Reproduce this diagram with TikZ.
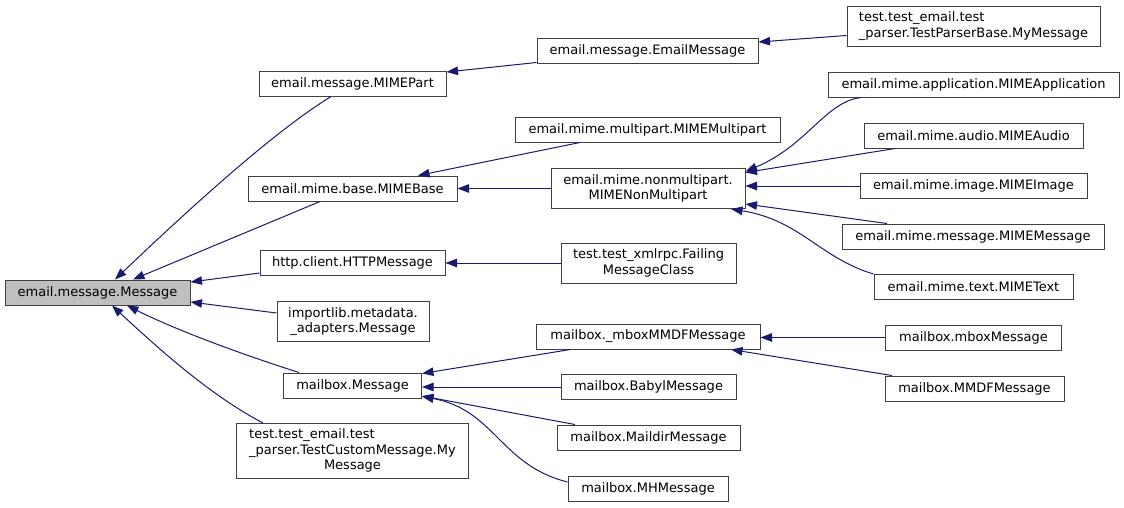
\documentclass[tikz,border=0pt]{standalone}
\usepackage{fontspec}
\setmainfont{DejaVu Sans}
\usetikzlibrary{arrows.meta}
\definecolor{edgeblue}{HTML}{191970}
\definecolor{boxline}{HTML}{404040}
\definecolor{selfill}{HTML}{BFBFBF}
\begin{document}
\begin{tikzpicture}[x=1pt,y=-1pt,
  box/.style={draw=boxline, line width=1pt, fill=white, inner sep=0pt, minimum height=25pt,
    font=\fontsize{13}{15.5}\selectfont, text=black},
  edge/.style={draw=edgeblue, line width=1pt, -{Triangle[length=11.5pt,width=8.5pt]}}]
\useasboundingbox (0,0) rectangle (1124,507);
% column 0
\node[box, fill=selfill, minimum width=185pt] (msg) at (97.5,292.5) {email.message.Message};
% column 1
\node[box, minimum width=187pt] (mimepart) at (352.5,83.5) {email.message.MIMEPart};
\node[box, minimum width=209pt] (mimebase) at (352.5,188.5) {email.mime.base.MIMEBase};
\node[box, minimum width=185pt] (http) at (352.5,263) {http.client.HTTPMessage};
\node[box, minimum width=152pt, minimum height=40pt, align=center] (importlib) at (353,321.5) {importlib.metadata.\\\_adapters.Message};
\node[box, minimum width=138pt] (mbmsg) at (352.5,385.5) {mailbox.Message};
\node[box, minimum width=232pt, minimum height=55pt] (custom) at (352.5,451) {\begin{tabular}{@{}l@{}}test.test\_email.test\\\_parser.TestCustomMessage.My\\\multicolumn{1}{@{}c@{}}{Message}\end{tabular}};
% column 2
\node[box, minimum width=221pt] (emailmsg) at (647.5,51) {email.message.EmailMessage};
\node[box, minimum width=265pt] (multipart) at (647.5,129.5) {email.mime.multipart.MIMEMultipart};
\node[box, minimum width=194pt, minimum height=40pt, align=center] (nonmulti) at (648,188.5) {email.mime.nonmultipart.\\MIMENonMultipart};
\node[box, minimum width=175pt, minimum height=40pt, align=center] (failing) at (648.5,263) {test.test\_xmlrpc.Failing\\MessageClass};
\node[box, minimum width=224pt] (mboxmmdf) at (648,336.5) {mailbox.\_mboxMMDFMessage};
\node[box, minimum width=175pt] (babyl) at (648.5,387) {mailbox.BabylMessage};
\node[box, minimum width=183pt] (maildir) at (648.5,437.5) {mailbox.MaildirMessage};
\node[box, minimum width=160pt] (mh) at (648,488.5) {mailbox.MHMessage};
% column 3
\node[box, minimum width=253pt, minimum height=40pt, align=left] (parser) at (973.5,26) {test.test\_email.test\\\_parser.TestParserBase.MyMessage};
\node[box, minimum width=291pt] (app) at (973.5,84.5) {email.mime.application.MIMEApplication};
\node[box, minimum width=219pt] (audio) at (973.5,135.5) {email.mime.audio.MIMEAudio};
\node[box, minimum width=227pt] (image) at (973.5,186) {email.mime.image.MIMEImage};
\node[box, minimum width=262pt] (mimemsg) at (973,236.5) {email.mime.message.MIMEMessage};
\node[box, minimum width=199pt] (text) at (973.5,287) {email.mime.text.MIMEText};
\node[box, minimum width=176pt] (mbox) at (973.5,337.5) {mailbox.mboxMessage};
\node[box, minimum width=179pt] (mmdf) at (974.5,388.5) {mailbox.MMDFMessage};
% edges to email.message.Message
\draw[edge] ([xshift=-21.5pt]mimepart.south) .. controls (290,122) and (230,170) .. ([xshift=17.5pt]msg.north);
\draw[edge] ([xshift=-32.5pt]mimebase.south) -- ([xshift=35.5pt]msg.north);
\draw[edge] ([yshift=-10pt]http.west) -- ([yshift=10.5pt]msg.east);
\draw[edge] ([yshift=8.5pt]importlib.west) -- ([yshift=-9.5pt]msg.east);
\draw[edge] ([xshift=-53.5pt]mbmsg.north) .. controls (250,357) and (180,332) .. ([xshift=29.5pt]msg.south);
\draw[edge] ([xshift=-89.5pt]custom.north) .. controls (210,395) and (160,350) .. ([xshift=14.5pt]msg.south);
% edges in upper part
\draw[edge] ([yshift=-11.5pt]emailmsg.west) -- ([yshift=11.5pt]mimepart.east);
\draw[edge] ([yshift=-9.5pt]parser.west) -- ([yshift=9pt]emailmsg.east);
\draw[edge] ([xshift=-67.5pt]multipart.south) -- ([xshift=65.5pt]mimebase.north);
\draw[edge] (nonmulti.west) -- (mimebase.east);
\draw[edge] (failing.west) -- (http.east);
% edges to MIMENonMultipart
\draw[edge] ([xshift=-112.5pt]app.south) .. controls (825,102) and (808,145) .. ([yshift=17pt]nonmulti.east);
\draw[edge] ([xshift=-78.5pt]audio.south) -- ([yshift=16pt]nonmulti.east);
\draw[edge] (image.west) -- (image.west -| nonmulti.east);
\draw[edge] ([xshift=-86pt]mimemsg.north) -- ([yshift=-15.5pt]nonmulti.east);
\draw[edge] (text.north west) .. controls (820,258) and (800,220) .. ([xshift=83pt]nonmulti.south);
% mailbox edges
\draw[edge] (mbox.west) -- (mbox.west -| mboxmmdf.east);
\draw[edge] ([xshift=-82.5pt]mmdf.north) -- ([xshift=83pt]mboxmmdf.south);
\draw[edge] ([xshift=-77.5pt]mboxmmdf.south) -- ([yshift=12pt]mbmsg.east);
\draw[edge] (babyl.west) -- (babyl.west -| mbmsg.east);
\draw[edge] ([xshift=-73.5pt]maildir.north) -- ([yshift=-10.5pt]mbmsg.east);
\draw[edge] ([yshift=6.5pt]mh.west) .. controls (500,465) and (495,410) .. ([yshift=-11pt]mbmsg.east);
\end{tikzpicture}
\end{document}
